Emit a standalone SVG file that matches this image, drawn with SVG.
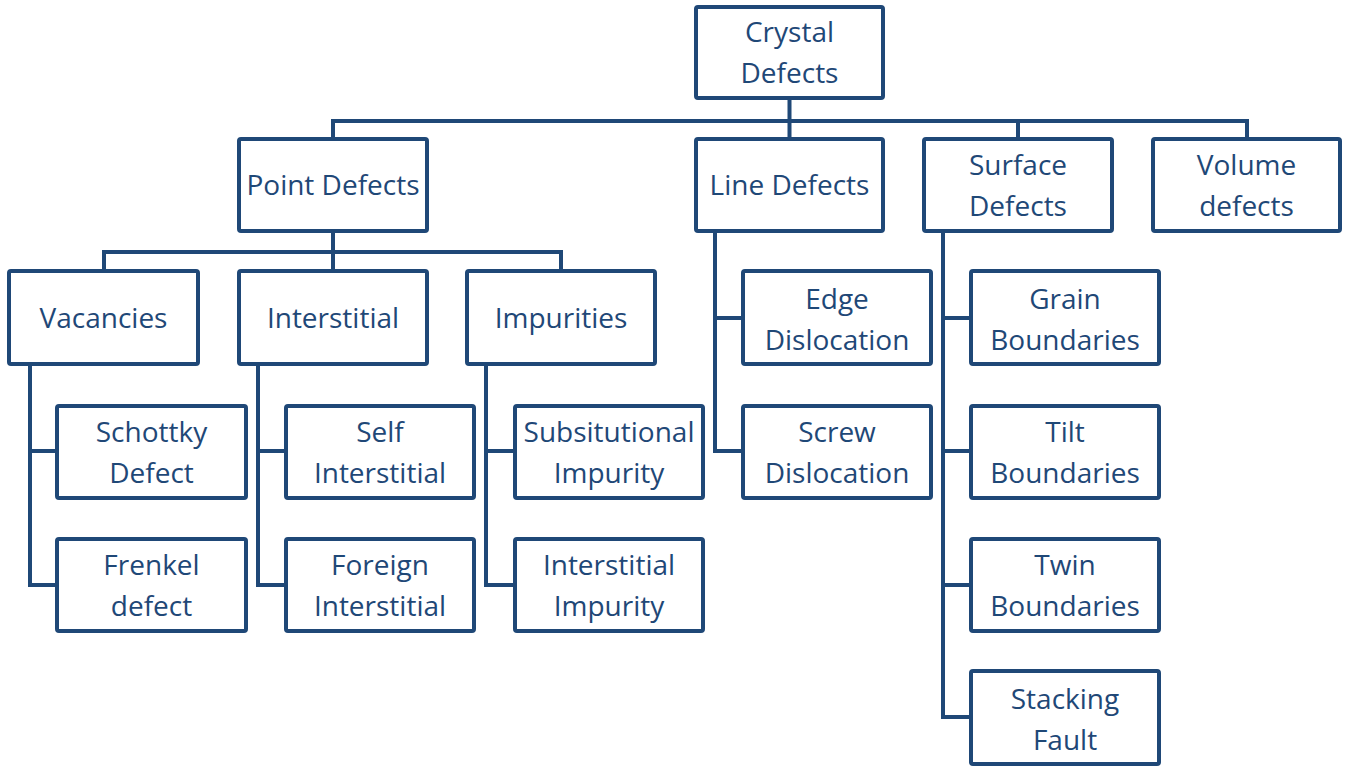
<svg xmlns="http://www.w3.org/2000/svg" width="1345" height="766" viewBox="0 0 1345 766">
  <style>
    .box { fill: #ffffff; stroke: #1f4877; stroke-width: 4; }
    .lbl { font-family: "Open Sans", "Liberation Sans", sans-serif; font-size: 28px; fill: #1f4877; text-anchor: middle; }
    .wire { fill: none; stroke: #1f4877; stroke-width: 4; stroke-linejoin: miter; stroke-linecap: square; }
  </style>
  <rect width="1345" height="766" fill="#ffffff"/>

  <!-- connectors -->
  <g id="connectors" class="wire">
    <path d="M789.5 100 V121 M333 121 H1247 M333 121 V137 M1018 121 V137 M1247 121 V137 M789.5 121 V137"/>
    <path d="M333 233 V252 M104 252 H561 M104 252 V269 M561 252 V269 M333 252 V269"/>
    <path d="M30 366 V585 M30 451 H55 M30 585 H55"/>
    <path d="M258 366 V585 M258 451 H284 M258 585 H284"/>
    <path d="M486 366 V585 M486 451 H513 M486 585 H513"/>
    <path d="M715 233 V451 M715 318 H741 M715 451 H741"/>
    <path d="M943 233 V717 M943 318 H969 M943 451 H969 M943 585 H969 M943 717 H969"/>
  </g>

  <!-- level 0 -->
  <g id="crystal-defects">
    <rect class="box" x="696" y="7" width="187" height="91" rx="2"/>
    <text class="lbl" x="789.5" y="42">Crystal</text>
    <text class="lbl" x="789.5" y="83">Defects</text>
  </g>

  <!-- level 1 -->
  <g id="point-defects">
    <rect class="box" x="239" y="139" width="188" height="92" rx="2"/>
    <text class="lbl" x="333" y="195">Point Defects</text>
  </g>
  <g id="line-defects">
    <rect class="box" x="696" y="139" width="187" height="92" rx="2"/>
    <text class="lbl" x="789.5" y="195">Line Defects</text>
  </g>
  <g id="surface-defects">
    <rect class="box" x="924" y="139" width="188" height="92" rx="2"/>
    <text class="lbl" x="1018" y="175">Surface</text>
    <text class="lbl" x="1018" y="216">Defects</text>
  </g>
  <g id="volume-defects">
    <rect class="box" x="1153" y="139" width="187" height="92" rx="2"/>
    <text class="lbl" x="1246.5" y="175">Volume</text>
    <text class="lbl" x="1246.5" y="216">defects</text>
  </g>

  <!-- point defect branches -->
  <g id="vacancies">
    <rect class="box" x="9" y="271" width="189" height="93" rx="2"/>
    <text class="lbl" x="103.5" y="328">Vacancies</text>
  </g>
  <g id="interstitial">
    <rect class="box" x="239" y="271" width="188" height="93" rx="2"/>
    <text class="lbl" x="333" y="328">Interstitial</text>
  </g>
  <g id="impurities">
    <rect class="box" x="467" y="271" width="188" height="93" rx="2"/>
    <text class="lbl" x="561" y="328">Impurities</text>
  </g>

  <g id="schottky-defect">
    <rect class="box" x="57" y="406" width="189" height="92" rx="2"/>
    <text class="lbl" x="151.5" y="442">Schottky</text>
    <text class="lbl" x="151.5" y="483">Defect</text>
  </g>
  <g id="frenkel-defect">
    <rect class="box" x="57" y="539" width="189" height="92" rx="2"/>
    <text class="lbl" x="151.5" y="575">Frenkel</text>
    <text class="lbl" x="151.5" y="616">defect</text>
  </g>
  <g id="self-interstitial">
    <rect class="box" x="286" y="406" width="188" height="92" rx="2"/>
    <text class="lbl" x="380" y="442">Self</text>
    <text class="lbl" x="380" y="483">Interstitial</text>
  </g>
  <g id="foreign-interstitial">
    <rect class="box" x="286" y="539" width="188" height="92" rx="2"/>
    <text class="lbl" x="380" y="575">Foreign</text>
    <text class="lbl" x="380" y="616">Interstitial</text>
  </g>
  <g id="substitutional-impurity">
    <rect class="box" x="515" y="406" width="188" height="92" rx="2"/>
    <text class="lbl" x="609" y="442">Subsitutional</text>
    <text class="lbl" x="609" y="483">Impurity</text>
  </g>
  <g id="interstitial-impurity">
    <rect class="box" x="515" y="539" width="188" height="92" rx="2"/>
    <text class="lbl" x="609" y="575">Interstitial</text>
    <text class="lbl" x="609" y="616">Impurity</text>
  </g>

  <!-- line defect branches -->
  <g id="edge-dislocation">
    <rect class="box" x="743" y="271" width="188" height="93" rx="2"/>
    <text class="lbl" x="837" y="309">Edge</text>
    <text class="lbl" x="837" y="350">Dislocation</text>
  </g>
  <g id="screw-dislocation">
    <rect class="box" x="743" y="406" width="188" height="92" rx="2"/>
    <text class="lbl" x="837" y="442">Screw</text>
    <text class="lbl" x="837" y="483">Dislocation</text>
  </g>

  <!-- surface defect branches -->
  <g id="grain-boundaries">
    <rect class="box" x="971" y="271" width="188" height="93" rx="2"/>
    <text class="lbl" x="1065" y="309">Grain</text>
    <text class="lbl" x="1065" y="350">Boundaries</text>
  </g>
  <g id="tilt-boundaries">
    <rect class="box" x="971" y="406" width="188" height="92" rx="2"/>
    <text class="lbl" x="1065" y="442">Tilt</text>
    <text class="lbl" x="1065" y="483">Boundaries</text>
  </g>
  <g id="twin-boundaries">
    <rect class="box" x="971" y="539" width="188" height="92" rx="2"/>
    <text class="lbl" x="1065" y="575">Twin</text>
    <text class="lbl" x="1065" y="616">Boundaries</text>
  </g>
  <g id="stacking-fault">
    <rect class="box" x="971" y="671" width="188" height="93" rx="2"/>
    <text class="lbl" x="1065" y="709">Stacking</text>
    <text class="lbl" x="1065" y="750">Fault</text>
  </g>
</svg>
